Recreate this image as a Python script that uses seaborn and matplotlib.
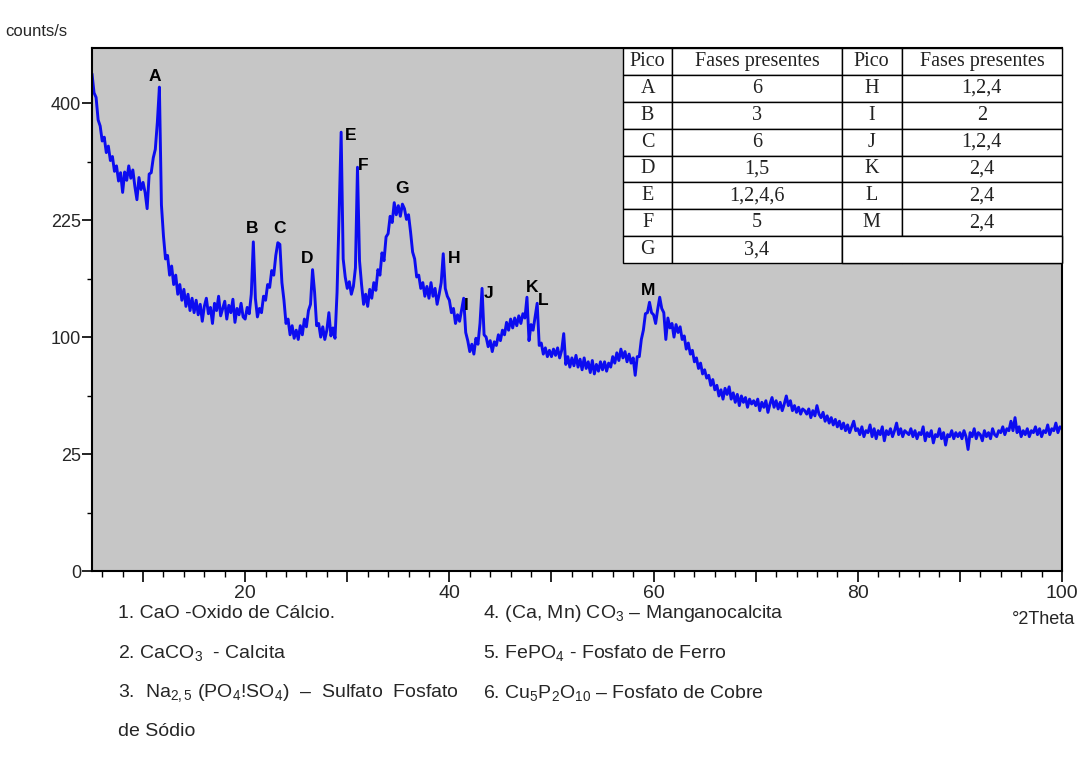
import numpy as np
import matplotlib
matplotlib.use("Agg")
import matplotlib.pyplot as plt
from matplotlib.patches import Rectangle
import seaborn as sns
from matplotlib.ticker import FixedLocator, NullFormatter

# ---------------- data ----------------
two_theta = np.round(np.arange(5.0, 100.0001, 0.2), 1)

counts_05_10 = [452, 418, 410, 372, 362, 338, 344, 320, 330, 308, 314, 292, 300, 278, 290, 262, 291, 279, 300, 282, 294, 270, 252, 283, 266]
counts_10_15 = [276, 262, 240, 288, 290, 312, 325, 368, 428, 245, 205, 178, 182, 160, 170, 150, 160, 140, 150, 134, 145, 128, 140, 124, 136]
counts_15_20 = [122, 134, 120, 130, 114, 128, 136, 121, 127, 112, 131, 124, 138, 119, 126, 133, 116, 129, 122, 135, 113, 126, 120, 131, 118]
counts_20_25 = [116, 127, 121, 140, 198, 136, 118, 126, 122, 138, 134, 150, 147, 165, 160, 182, 197, 195, 152, 134, 112, 116, 102, 110, 99]
counts_25_30 = [106, 98, 110, 102, 116, 109, 124, 130, 166, 142, 110, 112, 100, 109, 98, 106, 122, 101, 108, 99, 142, 232, 352, 178, 158]
counts_30_35 = [146, 153, 140, 148, 168, 298, 176, 150, 130, 140, 128, 145, 136, 152, 144, 166, 160, 185, 176, 204, 208, 230, 222, 248, 232]
counts_35_40 = [244, 230, 246, 240, 226, 232, 210, 186, 178, 158, 160, 146, 152, 138, 148, 136, 152, 138, 146, 130, 140, 152, 184, 146, 138]
counts_40_45 = [134, 122, 126, 112, 120, 114, 125, 136, 104, 97, 88, 94, 86, 99, 94, 112, 146, 102, 100, 92, 97, 88, 96, 93, 102]
counts_45_50 = [97, 106, 102, 113, 106, 116, 108, 117, 110, 119, 112, 121, 117, 137, 97, 111, 106, 118, 131, 93, 95, 86, 91, 84, 89]
counts_50_55 = [84, 90, 85, 91, 83, 89, 103, 78, 84, 76, 83, 77, 85, 76, 82, 74, 83, 75, 80, 72, 81, 71, 78, 73, 80]
counts_55_60 = [74, 80, 73, 79, 76, 84, 79, 87, 81, 90, 83, 88, 80, 86, 79, 83, 70, 84, 84, 98, 106, 121, 122, 132, 122]
counts_60_65 = [120, 112, 125, 137, 126, 122, 98, 117, 108, 112, 100, 111, 104, 109, 98, 101, 90, 95, 86, 89, 80, 83, 75, 79, 71]
counts_65_70 = [74, 68, 70, 63, 67, 60, 63, 56, 60, 54, 61, 57, 62, 54, 58, 52, 57, 50, 56, 52, 55, 49, 54, 51, 53]
counts_70_75 = [50, 54, 47, 52, 49, 53, 46, 51, 55, 49, 53, 48, 52, 47, 51, 56, 50, 53, 47, 50, 46, 49, 45, 48, 47]
counts_75_80 = [45, 48, 43, 47, 44, 50, 45, 43, 46, 41, 44, 40, 43, 39, 42, 38, 41, 37, 40, 36, 39, 35, 38, 41, 36]
counts_80_85 = [37, 34, 38, 33, 36, 35, 39, 33, 37, 32, 36, 34, 38, 31, 36, 34, 37, 33, 36, 40, 34, 37, 33, 36, 35]
counts_85_90 = [34, 37, 33, 36, 32, 35, 34, 38, 31, 35, 33, 36, 30, 34, 33, 37, 32, 35, 29, 34, 33, 36, 32, 35, 33]
counts_90_95 = [35, 32, 36, 33, 27, 35, 33, 37, 32, 35, 34, 31, 36, 33, 35, 32, 37, 34, 33, 36, 35, 38, 34, 37, 36]
counts_95_100 = [41, 36, 43, 35, 38, 33, 36, 34, 37, 33, 36, 35, 38, 34, 37, 33, 36, 35, 39, 34, 37, 36, 40, 35, 38, 37]

counts = np.array(counts_05_10 + counts_10_15 + counts_15_20 + counts_20_25 + counts_25_30
                  + counts_30_35 + counts_35_40 + counts_40_45 + counts_45_50 + counts_50_55
                  + counts_55_60 + counts_60_65 + counts_65_70 + counts_70_75 + counts_75_80
                  + counts_80_85 + counts_85_90 + counts_90_95 + counts_95_100, dtype=float)

y_ticks = [0, 25, 100, 225, 400]
y_minor = [6.25, 56.25, 156.25, 306.25]
x_labels = [20, 40, 60, 80, 100]

peak_names = ["A", "B", "C", "D", "E", "F", "G", "H", "I", "J", "K", "L", "M"]
peak_label_x = [11.2, 20.7, 23.4, 26.1, 30.3, 31.6, 35.4, 40.5, 41.7, 43.8, 48.1, 49.2, 59.5]
peak_label_y = [447, 215, 215, 178, 346, 300, 267, 178, 129, 141, 147, 134, 144]

table_header = ["Pico", "Fases presentes", "Pico", "Fases presentes"]
table_rows = [
    ["A", "6", "H", "1,2,4"],
    ["B", "3", "I", "2"],
    ["C", "6", "J", "1,2,4"],
    ["D", "1,5", "K", "2,4"],
    ["E", "1,2,4,6", "L", "2,4"],
    ["F", "5", "M", "2,4"],
    ["G", "3,4", "", ""],
]
table_col_widths = [0.112, 0.386, 0.137, 0.365]

legend_left = ["1. CaO -Oxido de Cálcio.",
               "2. CaCO$_3$  - Calcita",
               "3.  Na$_{2,5}$ (PO$_4$!SO$_4$)  –  Sulfato  Fosfato",
               "de Sódio"]
legend_right = ["4. (Ca, Mn) CO$_3$ – Manganocalcita",
                "5. FePO$_4$ - Fosfato de Ferro",
                "6. Cu$_5$P$_2$O$_{10}$ – Fosfato de Cobre"]

# ---------------- style ----------------
sns.set_style("ticks")
plt.rcParams["font.family"] = ["Liberation Sans", "DejaVu Sans"]
plt.rcParams["mathtext.fontset"] = "custom"
plt.rcParams["mathtext.rm"] = "Liberation Sans"
plt.rcParams["mathtext.it"] = "Liberation Sans:italic"
plt.rcParams["mathtext.bf"] = "Liberation Sans:bold"

W, H = 1080, 764
fig = plt.figure(figsize=(W / 100, H / 100), dpi=100)
fig.patch.set_facecolor("white")
ax_l, ax_r, ax_t, ax_b = 92, 1062, 48, 571
ax = fig.add_axes([ax_l / W, 1 - ax_b / H, (ax_r - ax_l) / W, (ax_b - ax_t) / H])
ax.set_facecolor("#c6c6c6")

sns.lineplot(x=two_theta, y=counts, ax=ax, color="#0c0cf0", linewidth=2.1,
             estimator=None, sort=False)

ax.set_yscale("function", functions=(lambda v: np.sqrt(np.clip(v, 0, None)),
                                     lambda v: np.square(v)))
ax.set_xlim(5, 100)
ax.set_ylim(0, 500)

ax.yaxis.set_major_locator(FixedLocator(y_ticks))
ax.yaxis.set_minor_locator(FixedLocator(y_minor))
ax.yaxis.set_minor_formatter(NullFormatter())
ax.set_yticklabels([str(v) for v in y_ticks])

ax.xaxis.set_major_locator(FixedLocator(list(range(10, 101, 10))))
ax.set_xticklabels(["" if v not in x_labels else str(v) for v in range(10, 101, 10)])
ax.xaxis.set_minor_locator(FixedLocator([v for v in range(6, 100, 2) if v % 10 != 0]))
ax.xaxis.set_minor_formatter(NullFormatter())

ax.tick_params(axis="y", which="major", length=7, width=1.2, pad=1, labelsize=13, color="black")
ax.tick_params(axis="y", which="minor", length=3.5, width=1.0, color="black")
ax.tick_params(axis="x", which="major", length=8, width=1.2, pad=2, labelsize=14, color="black")
ax.tick_params(axis="x", which="minor", length=4, width=1.0, color="black")
for s in ax.spines.values():
    s.set_visible(True)
    s.set_color("black")
    s.set_linewidth(1.5)
ax.set_xlabel("")
ax.set_ylabel("")

# peak letters
for name, px, py in zip(peak_names, peak_label_x, peak_label_y):
    ax.text(px, py, name, ha="center", va="center", fontsize=12.5, fontweight="bold", color="black")

# table
tx0 = (623 - ax_l) / (ax_r - ax_l)
tw = (ax_r - 623) / (ax_r - ax_l)
ty0 = (ax_b - 263) / (ax_b - ax_t)
th = (263 - ax_t) / (ax_b - ax_t)
tbl = ax.table(cellText=[table_header] + table_rows,
               colWidths=table_col_widths, cellLoc="center",
               bbox=[tx0, ty0, tw, th])
tbl.auto_set_font_size(False)
for (r, c), cell in tbl.get_celld().items():
    cell.set_facecolor("white")
    cell.set_edgecolor("black")
    cell.set_linewidth(1.0)
    cell.get_text().set_fontfamily(["Liberation Serif", "DejaVu Serif"])
    cell.get_text().set_fontsize(14.5)
    cell.get_text().set_color("#222222")
tbl.set_zorder(5)
# merged empty cell in the last row (columns 3-4)
nrows = len(table_rows) + 1
mx0 = tx0 + (table_col_widths[0] + table_col_widths[1]) * tw
mw = (table_col_widths[2] + table_col_widths[3]) * tw
ax.add_patch(Rectangle((mx0, ty0), mw, th / nrows, transform=ax.transAxes,
                       facecolor="white", edgecolor="black", linewidth=1.0,
                       zorder=6, clip_on=False))

# axis titles
fig.text(5 / W, 1 - 32 / H, "counts/s", fontsize=12, ha="left", va="center")
fig.text(1075 / W, 1 - 619 / H, "°2Theta", fontsize=13, ha="right", va="center")

# legend text
rows_y = [613, 653, 693, 732]
for txt, yy in zip(legend_left, rows_y):
    fig.text(118 / W, 1 - yy / H, txt, fontsize=14, ha="left", va="center")
for txt, yy in zip(legend_right, rows_y[:3]):
    fig.text(483 / W, 1 - yy / H, txt, fontsize=14, ha="left", va="center")

fig.savefig("out.png", dpi=100)
